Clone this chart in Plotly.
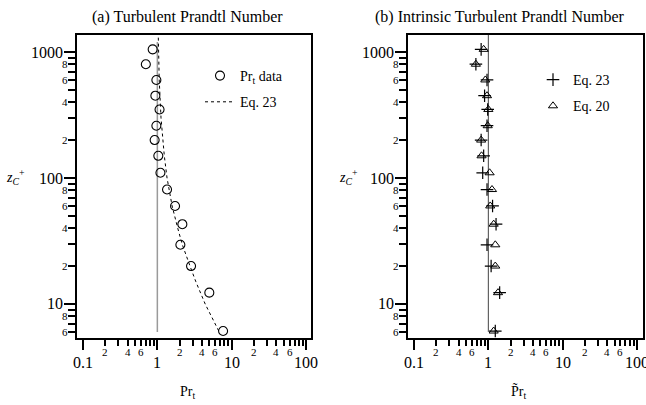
import math
import plotly.graph_objects as go

FONT = "Liberation Serif"

# Wall-normal positions z_C^+ shared by all measured profiles
z_plus = [1050, 800, 600, 450, 350, 260, 200, 150, 110, 81, 60, 43, 29.5, 20, 12.3, 6.1]

# (a) turbulent Prandtl number: data and Eq. 23 curve
pr_t_data = [0.865, 0.70, 0.97, 0.94, 1.07, 0.97, 0.92, 1.03, 1.10, 1.35, 1.73, 2.17, 2.04, 2.84, 5.0, 7.66]
z_eq23 = [1300, 600, 300, 200, 150, 100, 80, 60, 40, 30, 20, 15, 10, 8, 6.1]
pr_t_eq23 = [1.03, 1.06, 1.12, 1.18, 1.24, 1.35, 1.44, 1.58, 1.88, 2.15, 2.75, 3.3, 4.4, 5.3, 6.7]

# (b) intrinsic turbulent Prandtl number
pr_int_eq23 = [0.80, 0.68, 0.96, 0.89, 0.98, 0.96, 0.80, 0.865, 0.84, 0.96, 1.14, 1.27, 0.96, 1.09, 1.42, 1.24]
pr_int_eq20 = [0.865, 0.68, 0.91, 0.96, 1.0, 0.98, 0.80, 0.81, 1.04, 1.12, 1.06, 1.18, 1.24, 1.24, 1.35, 1.18]

# Pr = 1 reference lines
unity_x = [1, 1]
unity_z_a = [6, 1200]
unity_z_b = [6, 1365]

# Tick values and labels
x_major_vals = [0.1, 1, 10, 100]
x_major_text = ["0.1", "1", "10", "100"]
x_minor_vals = [0.2, 0.3, 0.4, 0.5, 0.6, 0.7, 0.8, 0.9,
                2, 3, 4, 5, 6, 7, 8, 9,
                20, 30, 40, 50, 60, 70, 80, 90]
x_minor_label_vals = [0.2, 0.4, 0.6, 2, 4, 6, 20, 40, 60]
x_minor_label_text = ["2", "4", "6"] * 3
y_major_vals = [10, 100, 1000]
y_major_text = ["10", "100", "1000"]
y_minor_vals = [6, 7, 8, 9,
                20, 30, 40, 50, 60, 70, 80, 90,
                200, 300, 400, 500, 600, 700, 800, 900]
y_minor_label_vals = [6, 8, 20, 40, 60, 80, 200, 400, 600, 800]
y_minor_label_text = ["6", "8", "2", "4", "6", "8", "2", "4", "6", "8"]

X_RANGE_A = [-1.081, 2.067]
X_RANGE_B = [-1.081, 2.081]
Y_RANGE = [0.73, 3.135]
Y_DOMAIN = [0.1654, 0.9136]


def x_axis(domain, rng, anchor):
    return dict(type="log", range=rng, domain=domain, anchor=anchor,
                tickmode="array", tickvals=x_major_vals, showticklabels=False,
                ticks="outside", ticklen=10, tickwidth=2, tickcolor="black",
                minor=dict(tickmode="array", tickvals=x_minor_vals, ticks="outside",
                           ticklen=6, tickwidth=1.5, tickcolor="black"),
                showline=True, linewidth=2, linecolor="black", mirror=True,
                showgrid=False, zeroline=False)


def y_axis(anchor):
    return dict(type="log", range=Y_RANGE, domain=Y_DOMAIN, anchor=anchor,
                tickmode="array", tickvals=y_major_vals, showticklabels=False,
                ticks="outside", ticklen=11, tickwidth=2, tickcolor="black",
                minor=dict(tickmode="array", tickvals=y_minor_vals, ticks="outside",
                           ticklen=7, tickwidth=1.5, tickcolor="black"),
                showline=True, linewidth=2, linecolor="black", mirror=True,
                showgrid=False, zeroline=False)


fig = go.Figure()

# Panel (a)
fig.add_trace(go.Scatter(x=unity_x, y=unity_z_a, mode="lines", xaxis="x", yaxis="y",
                         line=dict(color="#9a9a9a", width=1.5), showlegend=False))
fig.add_trace(go.Scatter(x=pr_t_data, y=z_plus, mode="markers", xaxis="x", yaxis="y",
                         name="Pr<sub>t</sub> data", legend="legend", legendgroup="a1",
                         marker=dict(symbol="circle-open", size=9, color="black",
                                     line=dict(width=1.1, color="black"))))
fig.add_trace(go.Scatter(x=pr_t_eq23, y=z_eq23, mode="lines", xaxis="x", yaxis="y",
                         name="Eq. 23", legend="legend", legendgroup="a2",
                         line=dict(color="black", width=1, dash="dot")))

# Panel (b)
fig.add_trace(go.Scatter(x=unity_x, y=unity_z_b, mode="lines", xaxis="x2", yaxis="y2",
                         line=dict(color="#444444", width=1), showlegend=False))
fig.add_trace(go.Scatter(x=pr_int_eq23, y=z_plus, mode="markers", xaxis="x2", yaxis="y2",
                         name="Eq. 23", legend="legend2", legendgroup="b1",
                         marker=dict(symbol="cross-thin-open", size=9, color="black",
                                     line=dict(width=1.2, color="black"))))
fig.add_trace(go.Scatter(x=pr_int_eq20, y=z_plus, mode="markers", xaxis="x2", yaxis="y2",
                         name="Eq. 20", legend="legend2", legendgroup="b2",
                         marker=dict(symbol="triangle-up-open", size=8, color="black",
                                     line=dict(width=1, color="black"))))

legend_style = dict(font=dict(family=FONT, size=14, color="black"),
                    bgcolor="rgba(0,0,0,0)", borderwidth=0,
                    xanchor="left", yanchor="top", tracegroupgap=5)

fig.update_layout(
    width=646, height=405,
    margin=dict(l=0, r=0, t=0, b=0),
    paper_bgcolor="white", plot_bgcolor="white",
    xaxis=x_axis([77 / 646, 311 / 646], X_RANGE_A, "y"),
    yaxis=y_axis("x"),
    xaxis2=x_axis([408 / 646, 643 / 646], X_RANGE_B, "y2"),
    yaxis2=y_axis("x2"),
    legend=dict(x=200 / 646, y=1 - 60 / 405, **legend_style),
    legend2=dict(x=533 / 646, y=1 - 64 / 405, **legend_style),
    showlegend=True,
)

# Tick labels placed on each axis scale: large decade labels, small digit labels
major_font = dict(family=FONT, size=16, color="black")
minor_font = dict(family=FONT, size=11, color="black")
for xa, ya in (("x", "y"), ("x2", "y2")):
    for v, t in zip(x_major_vals, x_major_text):
        fig.add_annotation(xref=xa, yref=ya + " domain", x=math.log10(v), y=0,
                           xanchor="center", yanchor="top", yshift=-14, text=t,
                           showarrow=False, font=major_font)
    for v, t in zip(x_minor_label_vals, x_minor_label_text):
        fig.add_annotation(xref=xa, yref=ya + " domain", x=math.log10(v), y=0,
                           xanchor="center", yanchor="top", yshift=-6, text=t,
                           showarrow=False, font=minor_font)
    for v, t in zip(y_major_vals, y_major_text):
        fig.add_annotation(xref=xa + " domain", yref=ya, x=0, y=math.log10(v),
                           xanchor="right", yanchor="middle", xshift=-12, text=t,
                           showarrow=False, font=major_font)
    for v, t in zip(y_minor_label_vals, y_minor_label_text):
        fig.add_annotation(xref=xa + " domain", yref=ya, x=0, y=math.log10(v),
                           xanchor="right", yanchor="middle", xshift=-7, text=t,
                           showarrow=False, font=minor_font)

annotations = [
    dict(text="(a) Turbulent Prandtl Number", x=188 / 646, y=1 - 17 / 405),
    dict(text="(b) Intrinsic Turbulent Prandtl Number", x=500 / 646, y=1 - 17 / 405),
    dict(text="Pr<sub>t</sub>", x=187 / 646, y=1 - 392 / 405),
    dict(text="P\u0303r<sub>t</sub>", x=518 / 646, y=1 - 392 / 405),
    dict(text="<i>z</i><sub><i>C</i></sub><sup>+</sup>", x=15 / 646, y=1 - 177 / 405),
    dict(text="<i>z</i><sub><i>C</i></sub><sup>+</sup>", x=348 / 646, y=1 - 177 / 405),
]
for i, a in enumerate(annotations):
    size = 16 if i < 2 else 14
    fig.add_annotation(xref="paper", yref="paper", xanchor="center", yanchor="middle",
                       showarrow=False, font=dict(family=FONT, size=size, color="black"), **a)

fig.write_html("out.html")
